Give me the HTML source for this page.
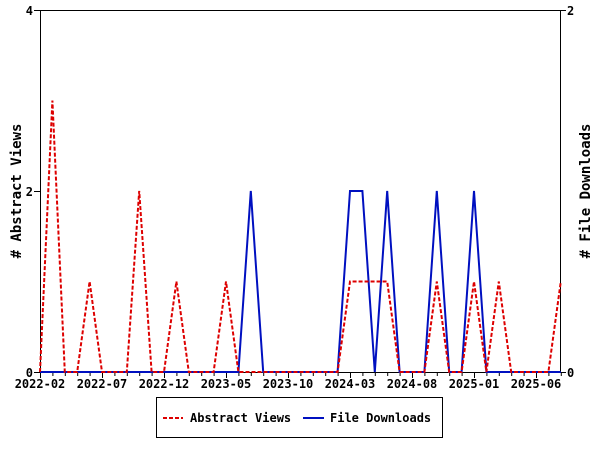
<!DOCTYPE html>
<html><head><meta charset="utf-8"><style>
html,body{margin:0;padding:0;background:#fff}
svg{display:block;font-family:"DejaVu Sans Mono","Liberation Mono",monospace;font-weight:bold}
</style></head><body>
<svg id="chart" width="600" height="450" viewBox="0 0 600 450" xmlns="http://www.w3.org/2000/svg">
<rect x="0" y="0" width="600" height="450" fill="#fff"/>
<g id="axes"></g>
<g id="series"></g>
<text transform="translate(21,191) rotate(-90)" text-anchor="middle" font-size="14">#&#160;Abstract&#160;Views</text>
<text transform="translate(590,191) rotate(-90)" text-anchor="middle" font-size="14">#&#160;File&#160;Downloads</text>
<g>
<rect x="156.5" y="397.5" width="286" height="40" fill="#fff" stroke="#000" stroke-width="1"/>
<line x1="163" y1="418" x2="183" y2="418" stroke="#d00" stroke-width="2" stroke-dasharray="4,2"/>
<text x="190" y="422" font-size="12">Abstract Views</text>
<line x1="303" y1="418" x2="324" y2="418" stroke="#0010c0" stroke-width="2"/>
<text x="330" y="422" font-size="12">File Downloads</text>
</g>
</svg>
<script>
const monthCount = 43;
const tickLabels = ["2022-02","2022-07","2022-12","2023-05","2023-10","2024-03","2024-08","2025-01","2025-06"];
const abstractViews = [0,3,0,0,1,0,0,0,2,0,0,1,0,0,0,1,0,0,0,0,0,0,0,0,0,1,1,1,1,0,0,0,1,0,0,1,0,1,0,0,0,0,1];
const fileDownloads = [0,0,0,0,0,0,0,0,0,0,0,0,0,0,0,0,0,1,0,0,0,0,0,0,0,1,1,0,1,0,0,0,1,0,0,1,0,0,0,0,0,0,0];
const leftTicks = [0,2,4];
const rightTicks = [0,2];

const X0=40,X1=560,Y0=372,Y1=10,PX=12.4;
const x = i => X0 + i*PX;
const yL = v => Y0 - (v/4)*(Y0-Y1);
const yR = v => Y0 - (v/2)*(Y0-Y1);
const NS="http://www.w3.org/2000/svg";
function mk(tag, attrs, parent){const e=document.createElementNS(NS,tag);for(const k in attrs)e.setAttribute(k,attrs[k]);parent.appendChild(e);return e;}
const axes=document.getElementById('axes'), series=document.getElementById('series');

let e;
e=mk('line',{x1:X0+0.5,y1:Y1,x2:X0+0.5,y2:Y0,stroke:'#000'},axes);


e=mk('line',{x1:X1+0.5,y1:Y1,x2:X1+0.5,y2:Y0,stroke:'#000'},axes);


e=mk('line',{x1:X0,y1:Y0+0.5,x2:X1,y2:Y0+0.5,stroke:'#000'},axes);


e=mk('line',{x1:X0,y1:Y1+0.5,x2:X1,y2:Y1+0.5,stroke:'#000'},axes);



for(let i=0;i<monthCount;i++){
  const major = i%5===0;
  e=mk('line',{x1:x(i)+0.5,y1:Y0,x2:x(i)+0.5,y2:Y0+(major?6:4),stroke:'#000'},axes);
  
  
}
tickLabels.forEach((t,k)=>{
  e=mk('text',{x:x(k*5),y:388,'text-anchor':'middle','font-size':12},axes);
  e.textContent=t;
  
  
});
leftTicks.forEach(v=>{
  e=mk('line',{x1:X0-6,y1:yL(v)+0.5,x2:X0,y2:yL(v)+0.5,stroke:'#000'},axes);
  
  
  e=mk('text',{x:X0-7,y:yL(v)+5,'text-anchor':'end','font-size':12},axes);
  e.textContent=v;
  
  
});
rightTicks.forEach(v=>{
  e=mk('line',{x1:X1,y1:yR(v)+0.5,x2:X1+6,y2:yR(v)+0.5,stroke:'#000'},axes);
  
  
  e=mk('text',{x:X1+7,y:yR(v)+5,'text-anchor':'start','font-size':12},axes);
  e.textContent=v;
  
  
});

e=mk('polyline',{points:fileDownloads.map((v,i)=>x(i)+','+yR(v)).join(' '),fill:'none',stroke:'#0010c0','stroke-width':2},series);


e=mk('polyline',{points:abstractViews.map((v,i)=>x(i)+','+yL(v)).join(' '),fill:'none',stroke:'#d00','stroke-width':2,'stroke-dasharray':'4,2'},series);


</script>
</body></html>
